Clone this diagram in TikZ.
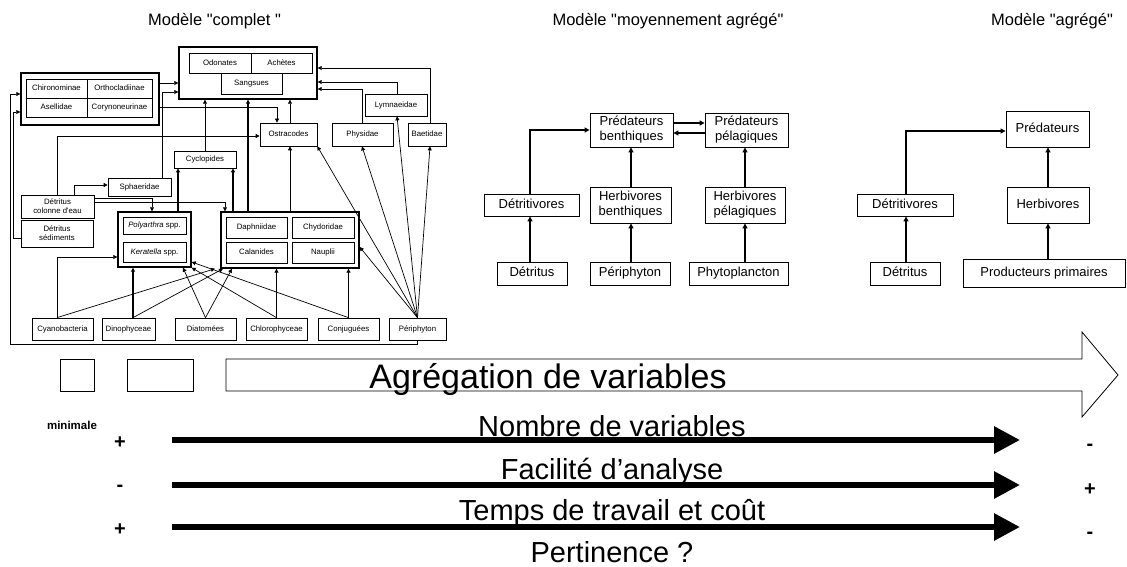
\documentclass[tikz,border=0pt]{standalone}
\usepackage{fontspec}
\setmainfont{Liberation Sans}[Ligatures=TeXOff]
\usetikzlibrary{arrows.meta,calc}
\begin{document}
\begin{tikzpicture}[x=1pt,y=-1pt,
  sb/.style={draw, line width=0.7pt, inner sep=0pt, font=\fontsize{7.8}{9}\selectfont, text height=5.8pt, text depth=1.6pt},
  sbm/.style={draw, line width=0.7pt, inner sep=0pt, font=\fontsize{7.8}{9}\selectfont, align=center},
  grp/.style={draw, line width=1.4pt, inner sep=0pt},
  mb/.style={draw, line width=0.9pt, inner sep=0pt, font=\fontsize{13}{15}\selectfont, text height=9.4pt, text depth=2.7pt},
  mbm/.style={draw, line width=0.9pt, inner sep=0pt, font=\fontsize{13}{15}\selectfont, align=center},
  arr/.style={-{Triangle[length=4pt,width=4pt]}, line width=0.7pt},
  tarr/.style={-{Triangle[length=4pt,width=4pt]}, line width=1.3pt},
  marr/.style={-{Triangle[length=5pt,width=5pt]}, line width=1.1pt},
  title/.style={font=\fontsize{16.5}{19}\selectfont, inner sep=0pt},
  bigtxt/.style={font=\fontsize{29}{32}\selectfont, inner sep=0pt, anchor=base},
  sign/.style={font=\bfseries\fontsize{20}{22}\selectfont, inner sep=0pt},
  bigarr/.style={line width=6pt, -{Triangle[length=26pt,width=26pt]}}
]
\useasboundingbox (0,0) rectangle (1127,567);

% titles
\node[title] (t1) at (214.5,21) {Modèle "complet "};
\node[title] (t2) at (668,21) {Modèle "moyennement agrégé"};
\node[title] (t3) at (1052,21) {Modèle "agrégé"};

% ---------- left model ----------
\node[grp, minimum width=138pt, minimum height=52pt] (chiro) at (90,99) {};
\node[sb, minimum width=61pt, minimum height=19pt] (c1) at (56.5,88.5) {Chironominae};
\node[sb, minimum width=65pt, minimum height=19pt] (c2) at (119.5,88.5) {Orthocladiinae};
\node[sb, minimum width=61pt, minimum height=19pt] (c3) at (56.5,107.5) {Asellidae};
\node[sb, minimum width=65pt, minimum height=19pt] (c4) at (119.5,107.5) {Corynoneurinae};

\node[grp, minimum width=138pt, minimum height=52pt] (pred) at (248,73) {};
\node[sb, minimum width=62pt, minimum height=20pt] (p1) at (220,63) {Odonates};
\node[sb, minimum width=61pt, minimum height=20pt] (p2) at (281.5,63) {Achètes};
\node[sb, minimum width=61pt, minimum height=21pt] (p3) at (251.5,83.5) {Sangsues};

\node[sb, minimum width=62pt, minimum height=22pt] (lymn) at (396,105) {Lymnaeidae};
\node[sb, minimum width=57pt, minimum height=23pt] (ostra) at (288.5,134.5) {Ostracodes};
\node[sb, minimum width=61pt, minimum height=23pt] (phys) at (362.5,134.5) {Physidae};
\node[sb, minimum width=38pt, minimum height=23pt] (baet) at (427,134.5) {Baetidae};
\node[sb, minimum width=62pt, minimum height=17pt] (cyclo) at (205,159.5) {Cyclopides};
\node[sb, minimum width=63pt, minimum height=18pt] (sphaer) at (139.5,187) {Sphaeridae};
\node[sbm, minimum width=73pt, minimum height=23pt, line width=1pt] (detcol) at (57.5,206.5) {Détritus\\colonne d'eau};
\node[sbm, minimum width=72pt, minimum height=27pt] (detsed) at (57,233.5) {Détritus\\sédiments};

\node[grp, minimum width=73pt, minimum height=55pt] (polyg) at (154.5,239.5) {};
\node[sb, minimum width=63pt, minimum height=17pt] (poly) at (154.5,225.5) {\textit{Polyarthra} spp.};
\node[sb, minimum width=63pt, minimum height=20pt] (kera) at (154.5,252) {\textit{Keratella} spp.};

\node[grp, minimum width=138pt, minimum height=56pt] (daphg) at (290,240) {};
\node[sb, minimum width=61pt, minimum height=21pt] (d1) at (256.5,227.5) {Daphniidae};
\node[sb, minimum width=62pt, minimum height=21pt] (d2) at (323,227.5) {Chydoridae};
\node[sb, minimum width=61pt, minimum height=21pt] (d3) at (256.5,252.5) {Calanides};
\node[sb, minimum width=62pt, minimum height=21pt] (d4) at (323,252.5) {Nauplii};

\node[sb, minimum width=61pt, minimum height=22pt] (cyano) at (62.5,329) {Cyanobacteria};
\node[sb, minimum width=53pt, minimum height=22pt] (dino) at (128.5,329) {Dinophyceae};
\node[sb, minimum width=61pt, minimum height=22pt] (diat) at (205.5,329) {Diatomées};
\node[sb, minimum width=61pt, minimum height=22pt] (chloro) at (276.5,329) {Chlorophyceae};
\node[sb, minimum width=61pt, minimum height=22pt] (conj) at (348.5,329) {Conjuguées};
\node[sb, minimum width=57pt, minimum height=22pt] (peri) at (417.5,329) {Périphyton};

% connectors left
\draw[arr] (chiro.east |- 0,83) -- (pred.west |- 0,83);
\draw[arr] (sphaer.north -| 162,0) |- (pred.west |- 0,92);
\draw[arr] (chiro.east |- 0,107) -| (ostra.north -| 277,0);
\draw[arr] (detcol.north -| 57,0) |- (ostra.west |- 0,136);
\draw[arr] (detcol.north -| 74,0) |- (sphaer.west |- 0,185);
\draw[arr] (detcol.east |- 0,198) -| (polyg.north -| 152,0);
\draw[arr] (detcol.east |- 0,202) -| (daphg.north -| 225,0);
\draw[tarr] (polyg.north -| 178,0) -- (cyclo.south -| 178,0);
\draw[tarr] (daphg.north -| 233,0) -- (cyclo.south -| 233,0);
\draw[arr] (cyclo.north -| 205,0) -- (pred.south -| 205,0);
\draw[tarr] (daphg.north -| 248,0) -- (pred.south -| 248,0);
\draw[arr] (ostra.north -| 290,0) -- (pred.south -| 290,0);
\draw[arr] (daphg.north -| 290,0) -- (ostra.south -| 290,0);
\draw[arr] (lymn.north -| 397,0) |- (pred.east |- 0,82);
\draw[arr] (phys.north -| 362,0) |- (pred.east |- 0,89);
\draw[arr] (baet.north -| 430,0) |- (pred.east |- 0,68);
\draw[arr] (peri.north) -- (ostra.south east);
\draw[arr] (peri.north) -- (phys.south -| 362,0);
\draw[arr] (peri.north) -- (lymn.south -| 397,0);
\draw[arr] (peri.north) -- (baet.south -| 430,0);
\draw[arr] (peri.north) -- (daphg.east |- 0,247);
\draw[arr] (peri.south) -- (peri.south |- 0,344) -| (10,94) -- (chiro.west |- 0,94);
\draw[arr] (detsed.west |- 0,238) -| (13,112) -- (chiro.west |- 0,112);
\draw[arr] (cyano.north -| 57,0) |- (polyg.west |- 0,257);
\draw[arr] (cyano.north -| 57,0) -- (daphg.south -| 215,0);
\draw[tarr] (dino.north -| 133,0) -- (polyg.south -| 133,0);
\draw[arr] (dino.north -| 133,0) -- (daphg.south -| 223,0);
\draw[arr] (diat.north) -- (polyg.south -| 183,0);
\draw[arr] (diat.north) -- (daphg.south -| 232,0);
\draw[tarr] (chloro.north) -- (daphg.south -| 276.5,0);
\draw[arr] (chloro.north) -- (polyg.south east);
\draw[tarr] (conj.north) -- (daphg.south -| 348.5,0);
\draw[arr] (conj.north) -- (polyg.east |- 0,262);

% ---------- middle model ----------
\node[mbm, minimum width=83pt, minimum height=34pt] (pb) at (631.5,130) {Prédateurs\\benthiques};
\node[mbm, minimum width=83pt, minimum height=34pt] (pp) at (746.5,130) {Prédateurs\\pélagiques};
\node[mb, minimum width=95pt, minimum height=22pt] (dv) at (531.5,205) {Détritivores};
\node[mbm, minimum width=81pt, minimum height=36pt] (hb) at (630.5,205) {Herbivores\\benthiques};
\node[mbm, minimum width=80pt, minimum height=36pt] (hp) at (745,205) {Herbivores\\pélagiques};
\node[mb, minimum width=70pt, minimum height=23pt] (dt) at (532,273.5) {Détritus};
\node[mb, minimum width=80pt, minimum height=23pt] (ph) at (630,273.5) {Périphyton};
\node[mb, minimum width=99pt, minimum height=23pt] (pl) at (738.5,273.5) {Phytoplancton};

\draw[marr] (pb.east |- 0,123) -- (pp.west |- 0,123);
\draw[marr] (pp.west |- 0,133) -- (pb.east |- 0,133);
\draw[marr] (dv.north -| 530,0) |- (pb.west |- 0,130);
\draw[marr] (dt.north -| 530,0) -- (dv.south -| 530,0);
\draw[marr] (ph.north -| 631,0) -- (hb.south -| 631,0);
\draw[marr] (hb.north -| 631,0) -- (pb.south -| 631,0);
\draw[marr] (pl.north -| 745,0) -- (hp.south -| 745,0);
\draw[marr] (hp.north -| 745,0) -- (pp.south -| 745,0);

% ---------- right model ----------
\node[mb, minimum width=83pt, minimum height=36pt] (pr) at (1047.5,129) {Prédateurs};
\node[mb, minimum width=96pt, minimum height=22pt] (rdv) at (905,205) {Détritivores};
\node[mb, minimum width=82pt, minimum height=36pt] (rh) at (1048,205) {Herbivores};
\node[mb, minimum width=70pt, minimum height=23pt] (rdt) at (905,273.5) {Détritus};
\node[mb, minimum width=162pt, minimum height=28pt] (rpp) at (1044,273) {Producteurs primaires};

\draw[marr] (rdv.north -| 906,0) |- (pr.west |- 0,131);
\draw[marr] (rdt.north -| 906,0) -- (rdv.south -| 906,0);
\draw[marr] (rpp.north -| 1048,0) -- (rh.south -| 1048,0);
\draw[marr] (rh.north -| 1048,0) -- (pr.south -| 1048,0);

% ---------- bottom ----------
\node[draw, line width=0.7pt, minimum width=34pt, minimum height=32pt, inner sep=0pt] (sq1) at (77,375) {};
\node[draw, line width=0.7pt, minimum width=66pt, minimum height=32pt, inner sep=0pt] (sq2) at (160,375) {};
\draw[line width=0.8pt] (226,359) -- (1082,359) -- (1082,332) -- (1118,375) -- (1082,417) -- (1082,391) -- (226,391) -- cycle;
\node[font=\fontsize{34}{36}\selectfont, inner sep=0pt, anchor=base] (agr) at (548,388) {Agrégation de variables};

\node[font=\bfseries\fontsize{11.5}{13}\selectfont, inner sep=0pt] (mini) at (72,425) {minimale};

\coordinate (a1s) at (172,440); \coordinate (a1e) at (1020,440);
\coordinate (a2s) at (172,485); \coordinate (a2e) at (1020,485);
\coordinate (a3s) at (172,527); \coordinate (a3e) at (1020,527);
\draw[bigarr] (a1s) -- (a1e);
\draw[bigarr] (a2s) -- (a2e);
\draw[bigarr] (a3s) -- (a3e);

\node[bigtxt] (l1) at (612,436) {Nombre de variables};
\node[bigtxt] (l2) at (612,479) {Facilité d’analyse};
\node[bigtxt] (l3) at (612,520) {Temps de travail et coût};
\node[bigtxt] (l4) at (612,562) {Pertinence ?};

\node[sign] (s1) at (120,443) {+};
\node[sign] (s2) at (120,488) {-};
\node[sign] (s3) at (120,530) {+};
\node[sign] (s4) at (1090,447) {-};
\node[sign] (s5) at (1090,490) {+};
\node[sign] (s6) at (1090,535) {-};
\end{tikzpicture}
\end{document}
